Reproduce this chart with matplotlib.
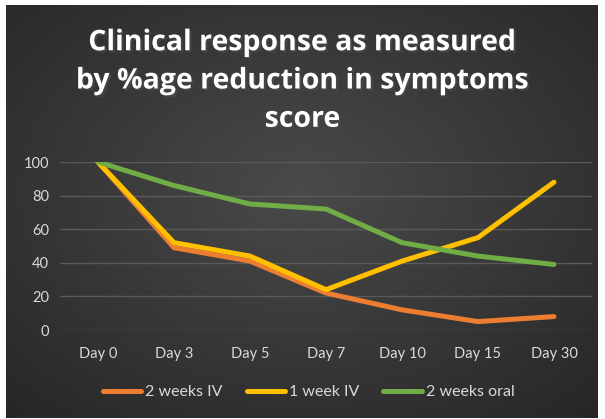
import numpy as np
import matplotlib.pyplot as plt
import matplotlib.patheffects as pe

# --- DATA ---
days = ["Day 0", "Day 3", "Day 5", "Day 7", "Day 10", "Day 15", "Day 30"]
iv_2weeks = [100, 49, 41, 22, 12, 5, 8]
iv_1week = [100, 52, 44, 24, 41, 55, 88]
oral_2weeks = [100, 86, 75, 72, 52, 44, 39]
series_names = ["2 weeks IV", "1 week IV", "2 weeks oral"]
yticks = [0, 20, 40, 60, 80, 100]

colors = ["#ED7D31", "#FFC000", "#70AD47"]
text_col = "#D9D9D9"
W, H = 605, 419

fig = plt.figure(figsize=(W / 100, H / 100), dpi=100)
fig.patch.set_facecolor("white")

# --- dark radial gradient background ---
bg = fig.add_axes([6 / W, 1 / H, 592 / W, 413 / H])
yy, xx = np.mgrid[0:1:300j, 0:1:400j]
r = np.sqrt(((xx - 0.5) / 0.75) ** 2 + ((yy - 0.55) / 0.75) ** 2)
r = np.clip(r, 0, 1)
c0 = np.array([0x4a, 0x4a, 0x4a]) / 255
c1 = np.array([0x26, 0x26, 0x26]) / 255
img = c0[None, None, :] * (1 - r[..., None]) + c1[None, None, :] * r[..., None]
bg.imshow(img, aspect="auto", extent=[0, 1, 0, 1], origin="lower")
bg.axis("off")

# --- plot area ---
ax = fig.add_axes([60 / W, (H - 330) / H, 532 / W, 168 / H])
ax.patch.set_alpha(0)
x = np.arange(len(days))
for vals, col, name in zip([iv_2weeks, iv_1week, oral_2weeks], colors, series_names):
    ax.plot(x, vals, color=col, lw=3.6, solid_capstyle="round",
            solid_joinstyle="round", label=name)

ax.set_xlim(-0.5, len(days) - 0.5)
ax.set_ylim(0, 100)
ax.set_yticks(yticks)
ax.set_xticks(x)
ax.set_xticklabels(days)
ax.grid(axis="y", color="#5a5a5a", lw=1)
ax.set_axisbelow(True)
for s in ax.spines.values():
    s.set_visible(False)
ax.tick_params(length=0, colors=text_col, labelsize=10.5, pad=12)
ax.tick_params(axis="y", pad=8)
for lab in ax.get_xticklabels() + ax.get_yticklabels():
    lab.set_fontfamily("Lato")

# --- title ---
title = "Clinical response as measured\nby %age reduction in symptoms\nscore"
fig.text(0.5, 1 - 81 / H, title, ha="center", va="center", color="white",
         fontsize=20.5, fontweight="bold", family="Open Sans", linespacing=1.42,
         path_effects=[pe.withSimplePatchShadow(offset=(1.5, -1.5), alpha=0.6)])

# --- legend ---
leg = fig.legend(loc="center", bbox_to_anchor=(0.51, 1 - 392 / H), ncol=3,
                 frameon=False, handlelength=2.4, handletextpad=0.25,
                 columnspacing=1.5, prop={"family": "Lato", "size": 11.5})
for t in leg.get_texts():
    t.set_color(text_col)

fig.savefig("out.png", dpi=100, facecolor=fig.get_facecolor())
